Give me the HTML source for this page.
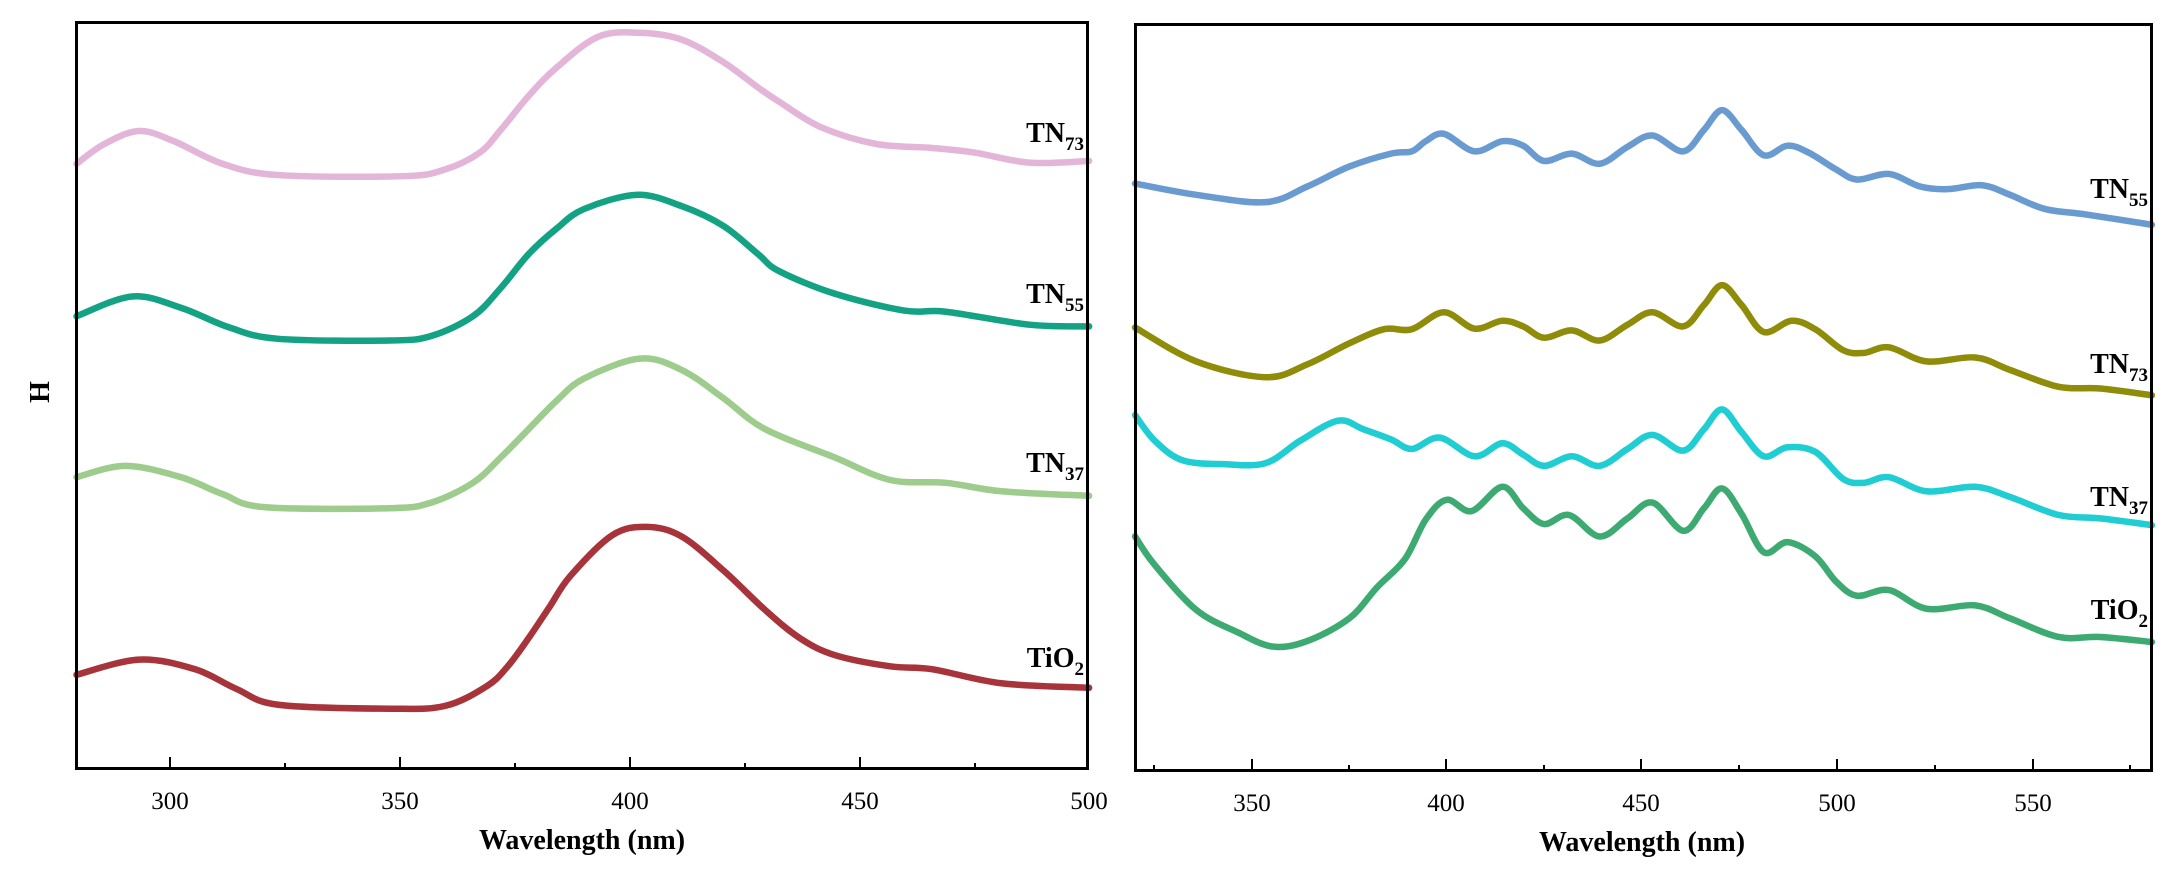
<!DOCTYPE html>
<html><head><meta charset="utf-8"><style>html,body{margin:0;padding:0;background:#fff;}svg{display:block}</style></head>
<body>
<svg id="s" width="2170" height="881" viewBox="0 0 2170 881" xmlns="http://www.w3.org/2000/svg" font-family="Liberation Serif, serif">
<rect width="2170" height="881" fill="#fff"/>
<g fill="none" stroke-width="6.5" stroke-linejoin="round" stroke-linecap="round">
<g transform="scale(1.391,0.5647)">
<polyline vector-effect="non-scaling-stroke" stroke="#e3b5d8" points="55,290 75,255 100,232 125,250 160,290 200,310 290,312 320,300 345,270 360,230 380,170 400,120 430,65 460,58 490,70 520,110 545,155 560,180 590,225 630,255 670,262 700,270 740,288 783,285"/>
<polyline vector-effect="non-scaling-stroke" stroke="#13a283" points="55,560 95,525 130,545 165,580 200,600 280,603 310,595 340,560 360,510 380,450 400,405 420,370 458,345 490,365 520,400 545,450 560,480 600,520 650,550 680,552 740,575 783,578"/>
<polyline vector-effect="non-scaling-stroke" stroke="#9dcc8d" points="55,845 90,825 130,845 160,875 190,898 280,900 310,890 340,855 360,810 380,760 400,710 420,670 460,635 490,655 520,705 550,760 600,810 640,850 680,855 720,870 783,878"/>
<polyline vector-effect="non-scaling-stroke" stroke="#a6343a" points="55,1195 100,1168 140,1185 170,1220 200,1248 280,1255 320,1250 350,1215 365,1180 380,1130 395,1075 410,1020 440,948 465,933 490,950 520,1010 550,1080 575,1130 600,1160 640,1180 670,1185 720,1210 783,1218"/>
<polyline vector-effect="non-scaling-stroke" stroke="#6a9bd0" points="816,325 860,345 910,358 940,330 970,295 1000,272 1015,268 1025,250 1038,237 1060,268 1080,250 1095,258 1110,285 1130,272 1150,290 1170,260 1188,240 1210,268 1225,230 1238,195 1252,230 1268,275 1285,258 1300,270 1320,300 1335,318 1358,308 1380,330 1400,335 1425,328 1445,345 1470,370 1500,380 1547,398"/>
<polyline vector-effect="non-scaling-stroke" stroke="#8f8c0a" points="816,580 860,640 910,668 940,645 970,608 995,583 1015,583 1038,553 1060,582 1080,568 1095,578 1110,598 1130,585 1150,603 1170,575 1188,553 1210,578 1225,540 1238,505 1252,540 1268,588 1288,568 1305,583 1325,620 1340,625 1358,615 1385,640 1420,633 1445,655 1480,685 1510,688 1547,700"/>
<polyline vector-effect="non-scaling-stroke" stroke="#1fcdd3" points="816,735 830,780 850,815 880,822 910,820 935,780 962,745 980,760 1000,778 1015,795 1035,775 1060,808 1080,785 1095,805 1110,825 1130,808 1150,825 1170,795 1188,770 1210,798 1225,760 1238,725 1252,765 1268,808 1285,792 1305,800 1325,848 1340,855 1358,845 1385,870 1420,862 1445,880 1480,912 1510,918 1547,930"/>
<polyline vector-effect="non-scaling-stroke" stroke="#3daa72" points="816,950 830,1000 860,1080 890,1120 915,1145 940,1135 970,1095 990,1040 1010,990 1025,920 1040,885 1058,905 1080,862 1095,900 1110,928 1128,912 1150,950 1170,918 1188,890 1210,940 1225,900 1238,865 1252,910 1268,978 1285,960 1305,985 1320,1030 1335,1055 1358,1045 1385,1078 1420,1072 1445,1095 1480,1128 1510,1128 1547,1137"/>
</g>
</g>
<rect x="76.5" y="22.5" width="1011" height="746" fill="none" stroke="#000" stroke-width="3"/>
<rect x="1135.5" y="24.5" width="1016" height="746" fill="none" stroke="#000" stroke-width="3"/>
<g stroke="#000" stroke-width="2">
<line x1="170" y1="769" x2="170" y2="757"/><line x1="285" y1="769" x2="285" y2="763"/>
<line x1="400" y1="769" x2="400" y2="757"/><line x1="515" y1="769" x2="515" y2="763"/>
<line x1="630" y1="769" x2="630" y2="757"/><line x1="745" y1="769" x2="745" y2="763"/>
<line x1="860" y1="769" x2="860" y2="757"/><line x1="975" y1="769" x2="975" y2="763"/>
<line x1="1154" y1="771" x2="1154" y2="765"/><line x1="1252" y1="771" x2="1252" y2="759"/>
<line x1="1349" y1="771" x2="1349" y2="765"/><line x1="1446" y1="771" x2="1446" y2="759"/>
<line x1="1544" y1="771" x2="1544" y2="765"/><line x1="1641" y1="771" x2="1641" y2="759"/>
<line x1="1739" y1="771" x2="1739" y2="765"/><line x1="1837" y1="771" x2="1837" y2="759"/>
<line x1="1935" y1="771" x2="1935" y2="765"/><line x1="2033" y1="771" x2="2033" y2="759"/>
<line x1="2130" y1="771" x2="2130" y2="765"/>
</g>
<g font-size="25" text-anchor="middle" fill="#000">
<text x="170" y="809">300</text><text x="400" y="809">350</text><text x="630" y="809">400</text><text x="860" y="809">450</text><text x="1089" y="809">500</text>
<text x="1252" y="811">350</text><text x="1446" y="811">400</text><text x="1641" y="811">450</text><text x="1837" y="811">500</text><text x="2033" y="811">550</text>
</g>
<g font-size="28" font-weight="bold" text-anchor="middle" fill="#000">
<text x="582" y="849">Wavelength (nm)</text>
<text x="1642" y="851">Wavelength (nm)</text>
<text transform="translate(49,392) rotate(-90)">H</text>
</g>
<g font-size="28" font-weight="bold" text-anchor="end" fill="#000">
<text x="1084" y="142">TN<tspan font-size="19" dy="8">73</tspan></text>
<text x="1084" y="303">TN<tspan font-size="19" dy="8">55</tspan></text>
<text x="1084" y="472">TN<tspan font-size="19" dy="8">37</tspan></text>
<text x="1084" y="667">TiO<tspan font-size="19" dy="8">2</tspan></text>
<text x="2148" y="198">TN<tspan font-size="19" dy="8">55</tspan></text>
<text x="2148" y="373">TN<tspan font-size="19" dy="8">73</tspan></text>
<text x="2148" y="506">TN<tspan font-size="19" dy="8">37</tspan></text>
<text x="2148" y="619">TiO<tspan font-size="19" dy="8">2</tspan></text>
</g>
</svg>
<script>
document.querySelectorAll('polyline').forEach(function(pl){
  var p=pl.getAttribute('points').trim().split(/\s+/).map(function(s){return s.split(',').map(Number);});
  var d='M'+p[0][0]+','+p[0][1];
  for(var i=0;i<p.length-1;i++){
    var p0=p[i-1]||p[i],p1=p[i],p2=p[i+1],p3=p[i+2]||p2;
    var c1x=p1[0]+(p2[0]-p0[0])/6,c1y=p1[1]+(p2[1]-p0[1])/6;
    var c2x=p2[0]-(p3[0]-p1[0])/6,c2y=p2[1]-(p3[1]-p1[1])/6;
    d+=' C'+c1x+','+c1y+' '+c2x+','+c2y+' '+p2[0]+','+p2[1];
  }
  var path=document.createElementNS('http://www.w3.org/2000/svg','path');
  path.setAttribute('d',d);
  path.setAttribute('stroke',pl.getAttribute('stroke'));
  path.setAttribute('vector-effect','non-scaling-stroke');
  pl.parentNode.replaceChild(path,pl);
});
</script>
</body></html>
